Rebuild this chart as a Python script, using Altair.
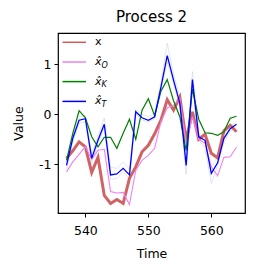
import altair as alt
import pandas as pd

time = list(range(537, 565))
x_true = [-0.88, -0.73, -0.55, -0.65, -1.16, -0.86, -1.62, -1.78, -1.70, -1.78, -1.28, -1.05,
          -0.75, -0.62, -0.39, -0.12, 0.29, 0.08, 0.34, -0.52, 0.05, -0.50, -0.40, -0.78,
          -0.87, -0.33, -0.22, -0.35]
x_O = [-1.15, -0.95, -0.80, -0.64, -0.90, -0.72, -0.70, -1.54, -1.57, -1.56, -1.80, -1.12,
       -0.92, -0.82, -0.68, -0.15, 0.13, 0.18, 0.31, -0.58, -0.05, -0.50, -0.58, -1.05,
       -1.23, -0.86, -0.85, -0.66]
x_K = [-0.92, -0.38, 0.07, -0.07, -0.45, -0.65, -0.46, -0.46, -0.68, -0.38, -0.10, -0.50,
       0.08, 0.31, -0.03, 0.46, 0.69, 0.27, -0.05, -0.72, 0.50, -0.10, -0.37, -0.38,
       -0.42, -0.35, -0.08, -0.04]
x_T = [-1.02, -0.48, -0.12, -0.09, -0.88, -0.52, -0.20, -1.21, -1.19, -1.08, -1.21, 0.05,
       -0.07, -0.12, -0.05, 0.54, 1.17, 0.68, 0.22, -1.02, 0.69, -0.45, -0.52, -1.18,
       -0.97, -0.48, -0.29, -0.20]
faint_a = [-0.96, -0.40, -0.05, -0.02, -0.82, -0.42, -0.08, -1.05, -1.08, -0.95, -1.10, 0.10,
           0.00, -0.05, 0.02, 0.62, 1.42, 0.80, 0.35, -0.92, 0.85, -0.38, -0.55, -1.05,
           -0.85, -0.40, -0.25, -0.15]
faint_b = [-1.10, -0.55, -0.18, -0.15, -0.98, -0.58, -0.26, -1.30, -1.28, -1.14, -1.30, 0.00,
           -0.11, -0.16, -0.09, 0.48, 1.05, 0.60, 0.15, -1.20, 0.60, -0.52, -0.68, -1.38,
           -1.03, -0.55, -0.34, -0.26]

x_dom = [535.65, 565.35]
y_dom = [-1.97, 1.62]

def frame(vals, name):
    return pd.DataFrame({"Time": time, "Value": vals, "s": name})

X = alt.X("Time:Q", scale=alt.Scale(domain=x_dom, nice=False, zero=False),
          axis=alt.Axis(values=[540, 550, 560], title="Time"))
Y = alt.Y("Value:Q", scale=alt.Scale(domain=y_dom, nice=False, zero=False),
          axis=alt.Axis(values=[-1, 0, 1], title="Value", labelExpr="datum.value < 0 ? '-' + abs(datum.value) : '' + datum.value"))

def line(df, color, width, opacity=1.0):
    return alt.Chart(df).mark_line(color=color, strokeWidth=width, opacity=opacity,
                                   clip=True).encode(x=X, y=Y, detail="s:N")

layers = [
    line(frame(faint_a, "fa"), "#b0c4de", 0.9, 0.45),
    line(frame(faint_b, "fb"), "#b0c4de", 0.9, 0.45),
    line(frame(x_true, "x"), "#cd5c5c", 3.0, 0.95),
    line(frame(x_O, "O"), "#ee82ee", 1.1),
    line(frame(x_K, "K"), "#008000", 1.2),
    line(frame(x_T, "T"), "#0000ff", 1.3),
]

# manual legend (matplotlib style with math subscripts)
leg_labels = ["x", "x̂", "x̂", "x̂"]
leg_subs = ["", "O", "K", "T"]
leg_colors = ["#cd5c5c", "#ee82ee", "#008000", "#0000ff"]
leg_rows = [9.3, 29.0, 48.6, 68.4]
one = pd.DataFrame({"k": [0]})
for lab, sub, col, yy in zip(leg_labels, leg_subs, leg_colors, leg_rows):
    layers.append(alt.Chart(one).mark_rule(color=col, strokeWidth=1.5).encode(
        x=alt.value(4.5), x2=alt.value(28), y=alt.value(yy)))
    layers.append(alt.Chart(one).mark_text(
        align="left", baseline="middle", fontSize=11, font="DejaVu Sans",
        fontStyle="normal" if sub == "" else "italic", color="black").encode(
        x=alt.value(37), y=alt.value(yy), text=alt.value(lab)))
    if sub:
        layers.append(alt.Chart(one).mark_text(
            align="left", baseline="middle", fontSize=8, font="DejaVu Sans",
            fontStyle="italic", color="black").encode(
            x=alt.value(43.5), y=alt.value(yy + 3.5), text=alt.value(sub)))

chart = alt.layer(*layers).properties(
    width=187, height=180,
    title=alt.TitleParams("Process 2", fontSize=15, font="DejaVu Sans",
                          fontWeight="normal", color="black", offset=8),
    autosize=alt.AutoSizeParams(type="none"),
    padding={"left": 50, "top": 25, "right": 3, "bottom": 51},
).configure_view(stroke="black", strokeWidth=1.2).configure_axis(
    grid=False, domain=False, tickColor="black", tickSize=4, tickWidth=1,
    labelFont="DejaVu Sans", labelFontSize=12.5, labelColor="black",
    titleFont="DejaVu Sans", titleFontSize=12.5, titleFontWeight="normal",
    titleColor="black",
).configure_axisX(labelPadding=7, titlePadding=11).configure_axisY(labelPadding=3, titlePadding=13)

chart.save("out.html", embed_options={"renderer": "svg", "actions": False})
